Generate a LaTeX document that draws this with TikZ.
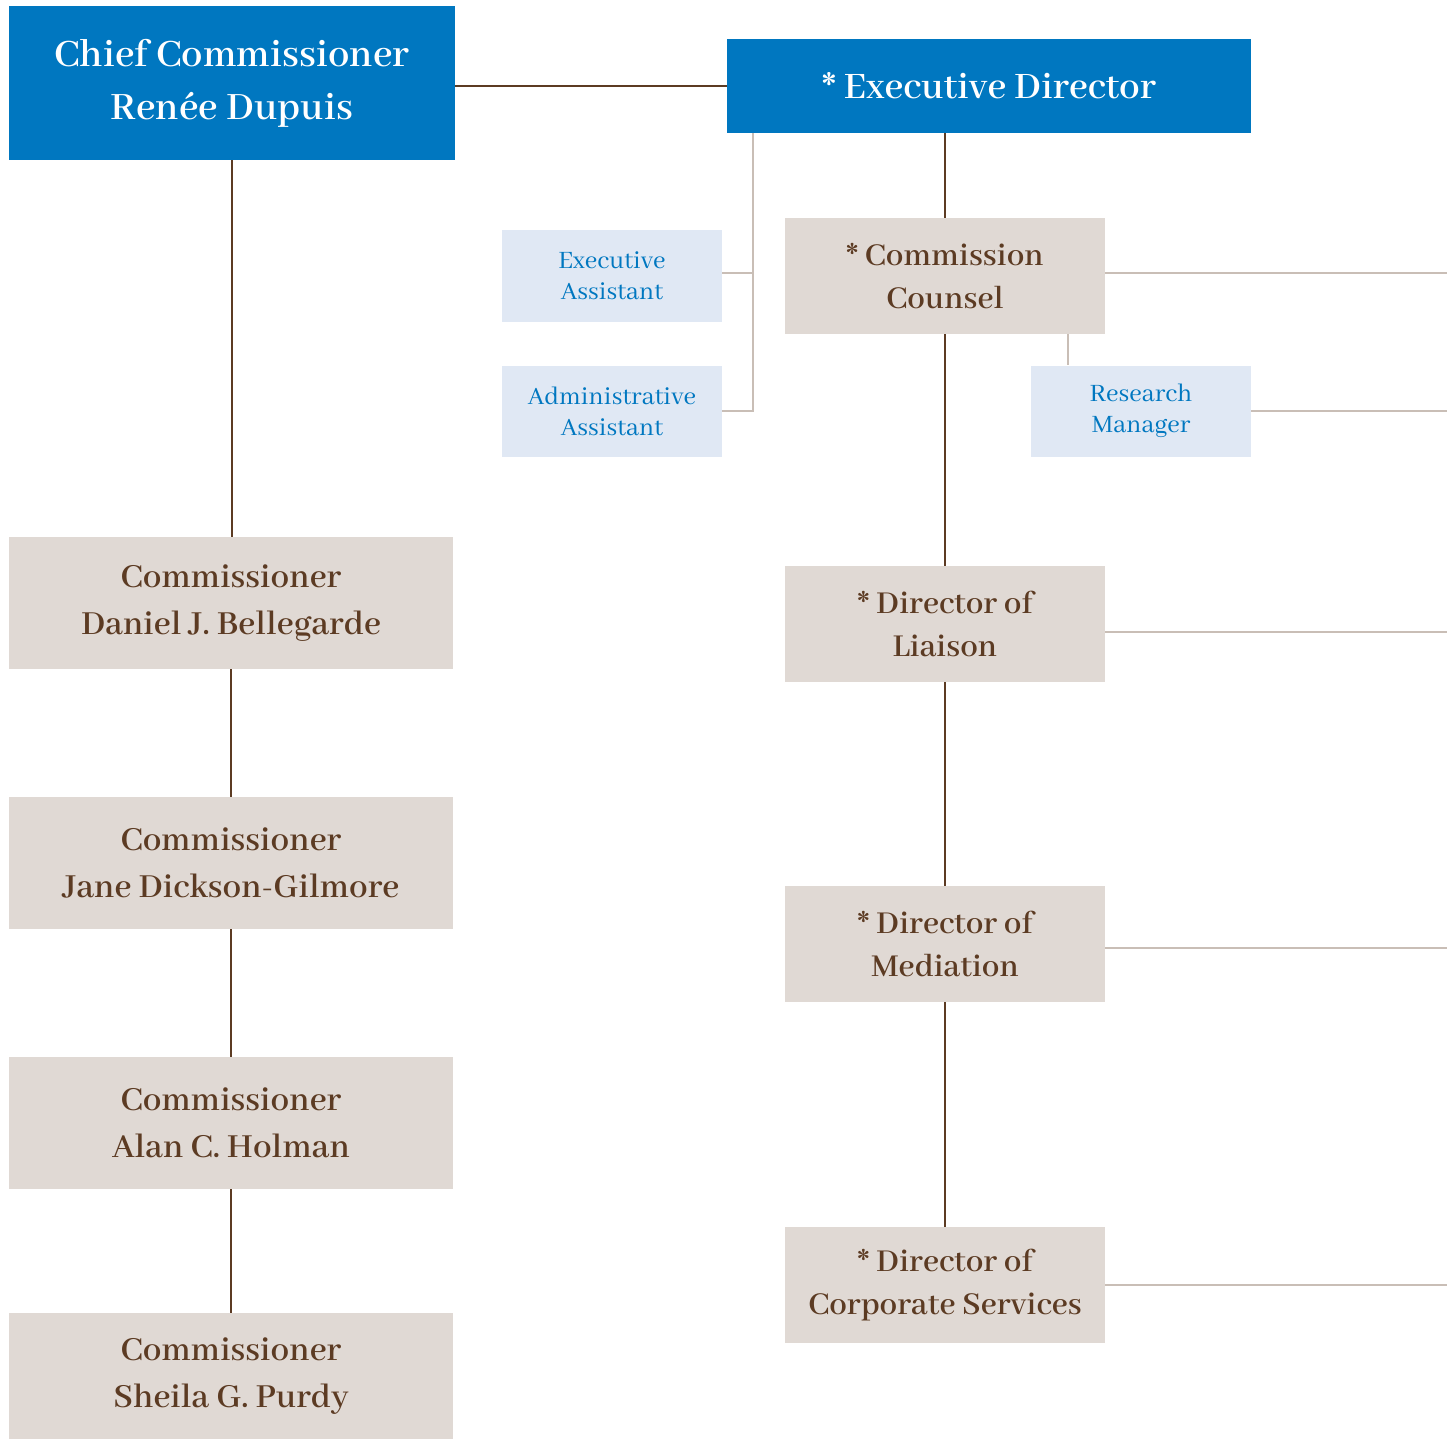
\documentclass[tikz,border=0pt]{standalone}
\usepackage{fontspec}
\setmainfont{Abhaya Libre}
\definecolor{cblue}{HTML}{0077C0}
\definecolor{cbeige}{HTML}{E0D9D4}
\definecolor{clight}{HTML}{E0E8F4}
\definecolor{cbrown}{HTML}{5C3B23}
\definecolor{cthin}{HTML}{C9BEB6}
\begin{document}
\begin{tikzpicture}[x=1pt,y=-1pt,
  box/.style={rectangle, inner sep=0pt, align=center, anchor=center},
  bluebox/.style={box, fill=cblue, text=white},
  chiefbox/.style={bluebox, font=\fontsize{42.5}{53}\selectfont\bfseries},
  edbox/.style={bluebox, font=\fontsize{41}{50}\selectfont\bfseries},
  combox/.style={box, fill=cbeige, text=cbrown, minimum width=444pt, font=\fontsize{37}{47}\selectfont\bfseries},
  dirbox/.style={box, fill=cbeige, text=cbrown, minimum width=320pt, minimum height=116pt, font=\fontsize{35}{43}\selectfont\bfseries},
  asstbox/.style={box, fill=clight, text=cblue, minimum width=220pt, minimum height=91pt, font=\fontsize{27.5}{31}\selectfont},
  mainline/.style={draw=cbrown, line width=2.2pt},
  thinline/.style={draw=cthin, line width=1.2pt}
]
\useasboundingbox (0,0) rectangle (1447,1439);
% nodes
\node[chiefbox, minimum width=446pt, minimum height=154pt] (chief) at (232,83) {Chief Commissioner\\Renée Dupuis};
\node[edbox, minimum width=524pt, minimum height=94pt] (ed) at (989,86) {* Executive Director};
\node[combox, minimum height=132pt] (c1) at (231,603) {Commissioner\\Daniel J. Bellegarde};
\node[combox, minimum height=132pt] (c2) at (231,863) {Commissioner\\Jane Dickson-Gilmore};
\node[combox, minimum height=132pt] (c3) at (231,1123) {Commissioner\\Alan C. Holman};
\node[combox, minimum height=126pt] (c4) at (231,1376) {Commissioner\\Sheila G. Purdy};
\node[dirbox] (counsel) at (945,276) {* Commission\\Counsel};
\node[dirbox] (liaison) at (945,624) {* Director of\\Liaison};
\node[dirbox] (mediation) at (945,944) {* Director of\\Mediation};
\node[dirbox] (corporate) at (945,1285) {* Director of\\Corporate Services};
\node[asstbox] (ea) at (612,276) {Executive\\Assistant};
\node[asstbox] (aa) at (612,411) {Administrative\\Assistant};
\node[asstbox] (rm) at (1141,411) {Research\\Manager};
\coordinate (edge) at (1447,0);
\coordinate (asttap) at (753,0);
\coordinate (rmtap) at (1068,0);
% main connectors
\draw[mainline] (ed.west) -- (ed.west -| chief.east);
\draw[mainline] (chief.south) -- (chief.south |- c1.north);
\draw[mainline] (c1.south) -- (c2.north);
\draw[mainline] (c2.south) -- (c3.north);
\draw[mainline] (c3.south) -- (c4.north);
\draw[mainline] (counsel.north) -- (counsel.north |- ed.south);
\draw[mainline] (counsel.south) -- (liaison.north);
\draw[mainline] (liaison.south) -- (mediation.north);
\draw[mainline] (mediation.south) -- (corporate.north);
% thin connectors
\draw[thinline] (asttap |- ed.south) -- (asttap |- aa.east) -- (aa.east);
\draw[thinline] ([yshift=3pt]ea.east) -- ([yshift=3pt]ea.east -| asttap);
\draw[thinline] (rmtap |- counsel.south) -- (rmtap |- rm.north);
\draw[thinline] ([yshift=3pt]counsel.east) -- ([yshift=3pt]counsel.east -| edge);
\draw[thinline] (rm.east) -- (rm.east -| edge);
\draw[thinline] ([yshift=-8pt]liaison.east) -- ([yshift=-8pt]liaison.east -| edge);
\draw[thinline] ([yshift=-4pt]mediation.east) -- ([yshift=-4pt]mediation.east -| edge);
\draw[thinline] (corporate.east) -- (corporate.east -| edge);
\end{tikzpicture}
\end{document}
